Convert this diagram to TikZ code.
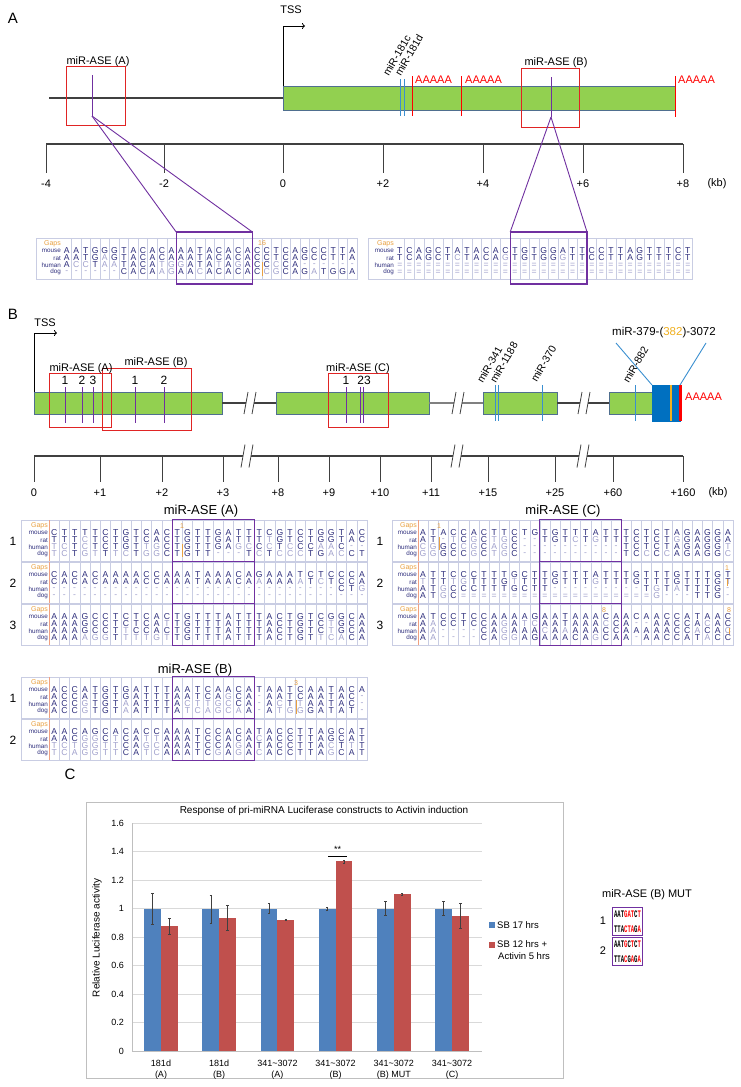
\documentclass[tikz,border=0pt]{standalone}
\usepackage{fontspec}
\setmainfont{Liberation Sans}
\setmonofont{Liberation Mono}
\usepackage{graphicx}
\usetikzlibrary{arrows.meta}
\definecolor{bargreen}{HTML}{92D050}
\definecolor{barborder}{HTML}{4F6F8F}
\definecolor{boxred}{HTML}{E02424}
\definecolor{aseviolet}{HTML}{7030A0}
\definecolor{mirblue}{HTML}{3A8FD0}
\definecolor{blockblue}{HTML}{0070C0}
\definecolor{seqdark}{HTML}{2E2E7C}
\definecolor{seqlight}{HTML}{A0A0CC}
\definecolor{gridc}{HTML}{C9CDE3}
\definecolor{gapor}{HTML}{E9A040}
\definecolor{salmon}{HTML}{F0A080}
\definecolor{chartblue}{HTML}{4F81BD}
\definecolor{chartred}{HTML}{C0504D}
\definecolor{axgray}{HTML}{404040}
\definecolor{gridgray}{HTML}{D9D9D9}
\definecolor{framegray}{HTML}{BFBFBF}
\definecolor{ylw}{HTML}{F0B020}

\newcount\seqcol
\def\seqx{0}\def\seqy{0}\def\seqcw{10}\def\seqid{s}
\def\seqchar#1{%
  \global\advance\seqcol by 1
  \ifnum`#1>96 \def\seqclr{seqlight}\else\ifnum`#1<65 \def\seqclr{seqlight}\else\def\seqclr{seqdark}\fi\fi
  \node[seqletter,text=\seqclr] (\seqid-\the\seqcol) at ({\seqx+(\the\seqcol-0.5)*\seqcw},\seqy) {\uppercase{#1}};}
\def\seqloop#1{\ifx#1\relax\else\seqchar{#1}\expandafter\seqloop\fi}
\newcommand\seqrow[4]{\global\seqcol=0 \def\seqid{#1}\def\seqx{#2}\def\seqy{#3}\seqloop#4\relax}

% id, x0, y0, label width, column width, mouse, rat, human, dog
\newcommand\alnblock[9]{%
  \pgfmathsetmacro\bx{#2+#4}%
  \pgfmathsetmacro\bxe{#2+#4+31*#5}%
  \pgfmathsetmacro\bya{#3+41}%
  \draw[alnframe] (#2,#3) rectangle (\bxe,\bya);
  \foreach \k in {1,...,30}{\draw[alngrid] ({\bx+\k*#5},#3) -- ({\bx+\k*#5},\bya);}
  \node[gapslbl] (#1-gaps) at (\bx-1,#3+6) {Gaps};
  \node[rowlbl] (#1-lm) at (\bx-1,#3+13) {mouse};
  \node[rowlbl] (#1-lr) at (\bx-1,#3+20) {rat};
  \node[rowlbl] (#1-lh) at (\bx-1,#3+27) {human};
  \node[rowlbl] (#1-ld) at (\bx-1,#3+34) {dog};
  \def\seqcw{#5}%
  \pgfmathsetmacro\yy{#3+13}\seqrow{#1m}{\bx}{\yy}{#6}%
  \pgfmathsetmacro\yy{#3+20}\seqrow{#1r}{\bx}{\yy}{#7}%
  \pgfmathsetmacro\yy{#3+27}\seqrow{#1h}{\bx}{\yy}{#8}%
  \pgfmathsetmacro\yy{#3+34}\seqrow{#1d}{\bx}{\yy}{#9}%
}
% name, x, y of number, y line top, y line bottom, text
\newcommand\gapmk[6]{%
  \node[gapnum] (#1) at (#2,#3) {#6};
  \draw[gapor, line width=0.9pt] (#2,#4) -- (#2,#5);}
\newcommand\breakmk[3]{%
  \fill[white] (#1-6,#2+#3) -- (#1-2,#2-#3) -- (#1+2,#2-#3) -- (#1-2,#2+#3) -- cycle;
  \fill[white] (#1-2,#2+#3) -- (#1+2,#2-#3) -- (#1+6,#2-#3) -- (#1+2,#2+#3) -- cycle;
  \draw[axgray, line width=0.8pt] (#1-6,#2+#3) -- (#1-2,#2-#3) (#1+2,#2+#3) -- (#1+6,#2-#3);}

\begin{document}
\begin{tikzpicture}[x=1pt,y=-1pt,
  panellbl/.style={font=\fontsize{15}{15}\selectfont, inner sep=0},
  lbl/.style={font=\fontsize{11}{13}\selectfont, inner sep=0},
  biglbl/.style={font=\fontsize{13}{15}\selectfont, inner sep=0},
  gbar/.style={draw=barborder, fill=bargreen, line width=0.9pt, inner sep=0, outer sep=0, anchor=north west},
  redbox/.style={draw=boxred, line width=1pt, inner sep=0, outer sep=0, anchor=north west},
  aseline/.style={draw=aseviolet, line width=0.9pt},
  mirline/.style={draw=mirblue, line width=0.9pt},
  paline/.style={draw=red, line width=1pt},
  backbone/.style={draw=axgray, line width=1.4pt},
  axisline/.style={draw=axgray, line width=1.2pt},
  tickline/.style={draw=axgray, line width=0.9pt},
  tssarrow/.style={draw=black, line width=0.8pt, -{To[length=3pt,width=6pt]}},
  polyA/.style={text=red, font=\fontsize{11}{13}\selectfont, inner sep=0, anchor=west},
  mirlbl/.style={rotate=60, anchor=south west, inner sep=0, font=\fontsize{10.5}{12}\selectfont},
  seqletter/.style={inner sep=0, font=\fontsize{8.6}{8.6}\selectfont},
  rowlbl/.style={inner sep=0, anchor=east, text=seqdark, font=\fontsize{6.3}{6.3}\selectfont},
  gapslbl/.style={inner sep=0, anchor=east, text=gapor, font=\fontsize{7}{7}\selectfont},
  gapnum/.style={inner sep=0, text=gapor, font=\fontsize{7}{7}\selectfont},
  alnframe/.style={draw=gridc, line width=0.7pt},
  alngrid/.style={draw=gridc, line width=0.4pt},
  alnbox/.style={draw=aseviolet, line width=1.1pt, inner sep=0, outer sep=0, anchor=north west},
  numlbl/.style={font=\fontsize{12}{14}\selectfont, inner sep=0},
  chartfont/.style={font=\fontsize{9}{11}\selectfont, inner sep=0},
  mutbox/.style={draw=aseviolet, line width=1pt, inner sep=0, minimum width=30pt, minimum height=28pt, align=center, font=\ttfamily\bfseries\fontsize{10}{15}\selectfont}
]
\useasboundingbox (0,0) rectangle (740,1087);
\fill[white] (0,0) rectangle (740,1087);

%%%%%%%%%%%%%%%% PANEL A
\node[panellbl] (pA) at (13,18) {A};
\node[gbar, minimum width=392pt, minimum height=24pt] (barA) at (283,86) {};
\coordinate (lineAstart) at (49,98);
\draw[backbone] (lineAstart) -- (barA.west);
\coordinate (tssAtip) at (305,26);
\draw[tssarrow] (barA.north west) |- (tssAtip);
\node[lbl] (tssA) at (291,10) {TSS};

\draw[mirline] (400,79) -- (400,116);
\draw[mirline] (404,79) -- (404,116);
\node[mirlbl] (m181c) at (389,77) {miR-181c};
\node[mirlbl] (m181d) at (401,77) {miR-181d};

\draw[paline] (412,76) -- (412,116);
\draw[paline] (461,76) -- (461,116);
\draw[paline] (675,76) -- (675,117);
\node[polyA] (pa1) at (415,80) {AAAAA};
\node[polyA] (pa2) at (465,80) {AAAAA};
\node[polyA] (pa3) at (678,80) {AAAAA};

\node[redbox, minimum width=59pt, minimum height=59pt] (aseA) at (66,66) {};
\node[lbl, anchor=base] (aseAlab) at (98,64) {miR-ASE (A)};
\coordinate (aseAtop) at (92,75);
\coordinate (aseAbot) at (92,116);
\draw[aseline] (aseAtop) -- (aseAbot);

\node[redbox, minimum width=58pt, minimum height=59pt] (aseB) at (521,68) {};
\node[lbl, anchor=base] (aseBlab) at (556,65) {miR-ASE (B)};
\coordinate (aseBtop) at (551,77);
\coordinate (aseBbot) at (551,117);
\draw[aseline] (aseBtop) -- (aseBbot);

\coordinate (axAl) at (46,144);
\coordinate (axAr) at (683,144);
\draw[axisline] (axAl) -- (axAr);
\foreach \x/\t [count=\n] in {46/-4,164/-2,283/0,383/+2,483/+4,583/+6,683/+8}{
  \draw[tickline] (\x,144) -- (\x,173);
  \node[lbl] (tA\n) at (\x,184) {\t};}
\node[lbl] (kbA) at (717,184) {(kb)};

\alnblock{aL}{36}{238}{26}{9.52}
  {AATGGGTACACAAATACACACCTCAGCCTTA}
  {AATGaGTACACAAATACACACCTCAGCCTTA}
  {AccTaaTACAtggATAtAgACCcCA------}
  {------CACAagAAcACACACcgCAGaTGGA}
\gapmk{gA16}{262}{243}{262}{276}{16}
\node[alnbox, minimum width=76.2pt, minimum height=52pt] (alnAbox) at (176.2,232) {};
\alnblock{aR}{368}{238}{27}{9.6}
  {TCAGCTATACACTGTGGATTCCTTAGTTTCT}
  {TCAGCTcTACAgTGTGGgTTCCTTAGTTTCT}
  {===============================}
  {===============================}
\node[alnbox, minimum width=76.8pt, minimum height=52pt] (alnBbox) at (510.2,232) {};
\draw[aseline] (aseAbot) -- (alnAbox.north west);
\draw[aseline] (aseAbot) -- (alnAbox.north east);
\draw[aseline] (aseBbot) -- (alnBbox.north west);
\draw[aseline] (aseBbot) -- (alnBbox.north east);

%%%%%%%%%%%%%%%% PANEL B
\node[panellbl] (pB) at (13,314) {B};
\node[gbar, minimum width=188pt, minimum height=22pt] (seg1) at (34,392) {};
\node[gbar, minimum width=153pt, minimum height=22pt] (seg2) at (276,392) {};
\node[gbar, minimum width=74pt, minimum height=22pt] (seg3) at (483,392) {};
\node[gbar, minimum width=43pt, minimum height=22pt] (seg4) at (609,392) {};
\draw[backbone, line width=1.2pt] (seg1.east) -- (seg2.west);
\draw[backbone, line width=1.6pt, draw=gray] (seg2.east) -- (seg3.west);
\draw[backbone, line width=1.2pt] (seg3.east) -- (seg4.west);
\breakmk{250}{403}{11}
\breakmk{458}{403}{11}
\breakmk{584}{403}{11}
\node[draw=blockblue, fill=blockblue, inner sep=0, outer sep=0, anchor=north west, minimum width=28pt, minimum height=36pt] (blk) at (652,385) {};
\draw[ylw, line width=1.2pt] (671,385) -- (671,421);
\draw[red, line width=2.2pt] (680.5,385) -- (680.5,421);
\node[polyA] (pa4) at (685,397) {AAAAA};

\coordinate (tssBtip) at (57,333);
\draw[tssarrow] (seg1.north west) |- (tssBtip);
\node[lbl] (tssB) at (45,323) {TSS};

% ASE boxes
\node[redbox, minimum width=62pt, minimum height=54pt] (bAseA) at (49,373) {};
\node[redbox, minimum width=89pt, minimum height=62pt] (bAseB) at (102,368) {};
\node[redbox, minimum width=60pt, minimum height=54pt] (bAseC) at (328,373) {};
\node[lbl, anchor=base] (bAseAlab) at (81,371) {miR-ASE (A)};
\node[lbl, anchor=base] (bAseBlab) at (156,365) {miR-ASE (B)};
\node[lbl, anchor=base] (bAseClab) at (358,371) {miR-ASE (C)};
\foreach \x/\t [count=\n] in {65/1,82/2,93/3,135/1,164/2,346/1}{
  \node[numlbl] (bn\n) at (\x,380) {\t};
  \draw[aseline] (\x,387) -- (\x,423);}
\node[numlbl] (bn7) at (364,380) {23};
\draw[aseline] (360,387) -- (360,423);
\draw[aseline] (363,387) -- (363,423);

% miRNAs
\foreach \x in {495,498,542,635}{\draw[mirline] (\x,385) -- (\x,421);}
\node[mirlbl] (m341) at (483,384) {miR-341};
\node[mirlbl] (m1188) at (496,384) {miR-1188};
\node[mirlbl] (m370) at (537,383) {miR-370};
\node[mirlbl] (m882) at (629,384) {miR-882};
\node[lbl, font=\fontsize{11.5}{13}\selectfont] (m379) at (664,333) {miR-379-(\textcolor{ylw}{382})-3072};
\coordinate (m379l) at (616,343);
\coordinate (m379r) at (706,343);
\draw[mirline] (m379l) -- (blk.north west);
\draw[mirline] (m379r) -- (blk.north east);

% axis B
\coordinate (axBl) at (34,456);
\coordinate (axBr) at (683,456);
\draw[axisline] (axBl) -- (axBr);
\foreach \x/\t [count=\n] in {34/0,100/+1,162/+2,223/+3,278/+8,329/+9,380/+10,431/+11,488/+15,555/+25,613/+60,683/+160}{
  \draw[tickline] (\x,456) -- (\x,482);
  \node[lbl] (tB\n) at (\x,493) {\t};}
\node[lbl] (kbB) at (718,493) {(kb)};
\breakmk{247}{456}{11.5}
\breakmk{457}{456}{11.5}
\breakmk{583}{456}{11.5}

% alignments miR-ASE (A)
\node[biglbl] (ttlA) at (201,511) {miR-ASE (A)};
\alnblock{bA1}{21}{520}{28}{10.26}
  {CTTTTCTGTCACTGTTGATTTCGTCTGGTAC}
  {TTTcTCTGTCACTGTTGATTTtGTCTGGTAC}
  {tcTcTCTGTtgCTGTTGAgcCcTcCCaaC--}
  {tcTgtTtcTggCTGTT---TcTcccTGacCT}
\alnblock{bA2}{21}{562}{28}{10.26}
  {CACACAAAACCAAATAAACAGAAATCTCCCA}
  {CACACAAAACCAAATAAACAaAAAaTcTCCA}
  {----------------------------CTg}
  {-------------------------------}
\alnblock{bA3}{21}{604}{28}{10.26}
  {AAAGCCTCTCACTGTTTATTTACTGTCGGCA}
  {AAAGCCTCTCAtTGTTTATTTACTGTCtGCA}
  {AAAGCCTtCCACTGTTTATTTACTGTCtGCA}
  {AAAaggTtttgtTGTTTATTTACTGTtcaCA}
\foreach \y [count=\n] in {520,562,604}{
  \draw[salmon, line width=0.8pt] (49,\y) -- (49,\y+41);
  \node[alnbox, minimum width=82.1pt, minimum height=42pt] (bAbox\n) at (172.1,\y-0.5) {};
  \node[numlbl] (bAnum\n) at (13,\y+21) {\n};}
\gapmk{gbA1}{182}{526}{544}{557}{1}

% alignments miR-ASE (C)
\node[biglbl] (ttlC) at (563,511) {miR-ASE (C)};
\alnblock{bC1}{392}{520}{26}{10.16}
  {ATACCACTTCTGTGTTTATTTCTCTAGAGGA}
  {AT-tCgCtgC--TGTcTgTTTCTCTgGAGGA}
  {cgGCcgCagC----------TCTCTAGAGGt}
  {ggGCCgCtgC----------TCcCcAGAGGc}
\alnblock{bC2}{392}{562}{26}{10.16}
  {ATTCCCTTTGCTTGTTTATTTGTTTGTTTGT}
  {tTTtgTTTGtTTTGTTTgTTTGTTTGTTTGT}
  {ATgCCCTTTGCTT---------TgTaTTTG-}
  {ATgC===================g---TTG-}
\alnblock{bC3}{392}{604}{26}{10.16}
  {ATCCTCCAAAAGAATAAACAACAACCATAAC}
  {AaCCTCCAgAtcAATAAAcCA--AACCAcAC}
  {Aa----CAgAAAcAaAAACCAAAAACCaCAc}
  {Aa----CAggAGAAACAgCAA-AACCATaCC}
\foreach \y [count=\n] in {520,562,604}{
  \draw[salmon, line width=0.8pt] (418,\y) -- (418,\y+41);
  \node[alnbox, minimum width=81.3pt, minimum height=42pt] (bCbox\n) at (539.9,\y-0.5) {};
  \node[numlbl] (bCnum\n) at (380,\y+21) {\n};}
\gapmk{gbC1}{439}{526}{537}{550}{1}
\gapmk{gbC2}{727}{568}{579}{586}{1}
\gapmk{gbC3}{729}{610}{628}{634}{8}
\node[gapnum] (gbC3b) at (604,610) {8};

% alignments miR-ASE (B)
\node[biglbl] (ttlB) at (195,670) {miR-ASE (B)};
\alnblock{bB1}{21}{677}{28}{10.26}
  {ACCATGTGATTTAATCAACATAATCAATACA}
  {ACCATGTGATTTAATCAgCA-AATCAATAC-}
  {ACCgTGTaATTTActtgcCA-AcTtAATAC-}
  {ACCgTGTaATTTAtcagcaA-AtggGATAT-}
\alnblock{bB2}{21}{719}{28}{10.26}
  {AACAGCACACCAAATCCACATACCTTAGCAT}
  {AACggCtCAttAAATCCACAcACCTTAGCAT}
  {tctggttCAgcAAATCCAgATACCTTAcTtT}
  {tcaggttCAtcAAATCgAgAcACCTTAgCAT}
\foreach \y [count=\n] in {677,719}{
  \draw[salmon, line width=0.8pt] (49,\y) -- (49,\y+41);
  \node[alnbox, minimum width=82.1pt, minimum height=42pt] (bBbox\n) at (172.1,\y-0.5) {};
  \node[numlbl] (bBnum\n) at (13,\y+21) {\n};}
\gapmk{gbB1}{296}{683}{700}{714}{3}

%%%%%%%%%%%%%%%% PANEL C
\node[panellbl] (pC) at (70,774) {C};
\draw[framegray, line width=0.8pt] (86,802) rectangle (563,1078);
\node[chartfont, font=\fontsize{10}{12}\selectfont] (ctitle) at (324,811) {Response of pri-miRNA Luciferase constructs to Activin induction};
\foreach \k in {1,...,8}{\draw[gridgray, line width=0.7pt] (132,{1051-\k*28.5}) -- (482,{1051-\k*28.5});}
\draw[framegray, line width=0.8pt] (132,823) -- (132,1051) -- (482,1051);
\foreach \k/\t in {0/0,1/0.2,2/0.4,3/0.6,4/0.8,5/1,6/1.2,7/1.4,8/1.6}{
  \node[chartfont, anchor=east] (yt\k) at (124,{1051-\k*28.5}) {\t};}
\node[chartfont, font=\fontsize{10}{12}\selectfont, rotate=90] (ytitle) at (97,938) {Relative Luciferase activity};
\foreach \i/\rv/\blo/\bhi/\rlo/\rhi/\la/\lb in {
  1/0.875/0.89/1.105/0.82/0.93/181d/(A),
  2/0.935/0.90/1.09/0.845/1.02/181d/(B),
  3/0.92/0.965/1.035/0.915/0.925/341\textasciitilde 3072/(A),
  4/1.33/0.99/1.01/1.32/1.34/341\textasciitilde 3072/(B),
  5/1.10/0.95/1.05/1.09/1.11/341\textasciitilde 3072/(B) MUT,
  6/0.95/0.955/1.05/0.86/1.035/341\textasciitilde 3072/(C)}{
  \pgfmathsetmacro\cx{161+58.2*(\i-1)}
  \fill[chartblue] (\cx-16.8,1051) rectangle (\cx,1051-142.5);
  \fill[chartred] (\cx,1051) rectangle (\cx+16.8,{1051-\rv*142.5});
  \draw[axgray, line width=0.5pt] (\cx-8.4,{1051-\blo*142.5}) -- (\cx-8.4,{1051-\bhi*142.5})
     (\cx-9.6,{1051-\blo*142.5}) -- (\cx-7.2,{1051-\blo*142.5})
     (\cx-9.6,{1051-\bhi*142.5}) -- (\cx-7.2,{1051-\bhi*142.5});
  \draw[axgray, line width=0.5pt] (\cx+8.4,{1051-\rlo*142.5}) -- (\cx+8.4,{1051-\rhi*142.5})
     (\cx+7.2,{1051-\rlo*142.5}) -- (\cx+9.6,{1051-\rlo*142.5})
     (\cx+7.2,{1051-\rhi*142.5}) -- (\cx+9.6,{1051-\rhi*142.5});
  \node[chartfont, align=center, font=\fontsize{9}{11}\selectfont] (xl\i) at (\cx,1069.5) {\la\\\lb};
}
\draw[black, line width=0.7pt] (328,856) -- (347,856);
\node[chartfont] (sig) at (337.5,849) {**};
\fill[chartblue] (489,922) rectangle (495,928);
\node[chartfont, anchor=west, font=\fontsize{9.5}{12}\selectfont] (lg1) at (497,925) {SB 17 hrs};
\fill[chartred] (489,942) rectangle (495,948);
\node[chartfont, anchor=north west, align=left, font=\fontsize{9.5}{12}\selectfont] (lg2) at (497,940) {SB 12 hrs +\\\hspace*{1pt}Activin 5 hrs};

% MUT
\node[lbl] (mutttl) at (647,895) {miR-ASE (B) MUT};
\node[mutbox, anchor=north west] (mut1) at (612,907) {\scalebox{0.56}[1]{AAT\textcolor{red}{GAT}C\textcolor{red}{T}}\\\scalebox{0.56}[1]{TTA\textcolor{red}{CTA}G\textcolor{red}{A}}};
\node[mutbox, anchor=north west] (mut2) at (612,937) {\scalebox{0.56}[1]{AAT\textcolor{red}{G}C\textcolor{red}{T}C\textcolor{red}{T}}\\\scalebox{0.56}[1]{TTA\textcolor{red}{C}G\textcolor{red}{A}G\textcolor{red}{A}}};
\node[lbl] (mutn1) at (603,921) {1};
\node[lbl] (mutn2) at (603,951) {2};
\end{tikzpicture}
\end{document}
